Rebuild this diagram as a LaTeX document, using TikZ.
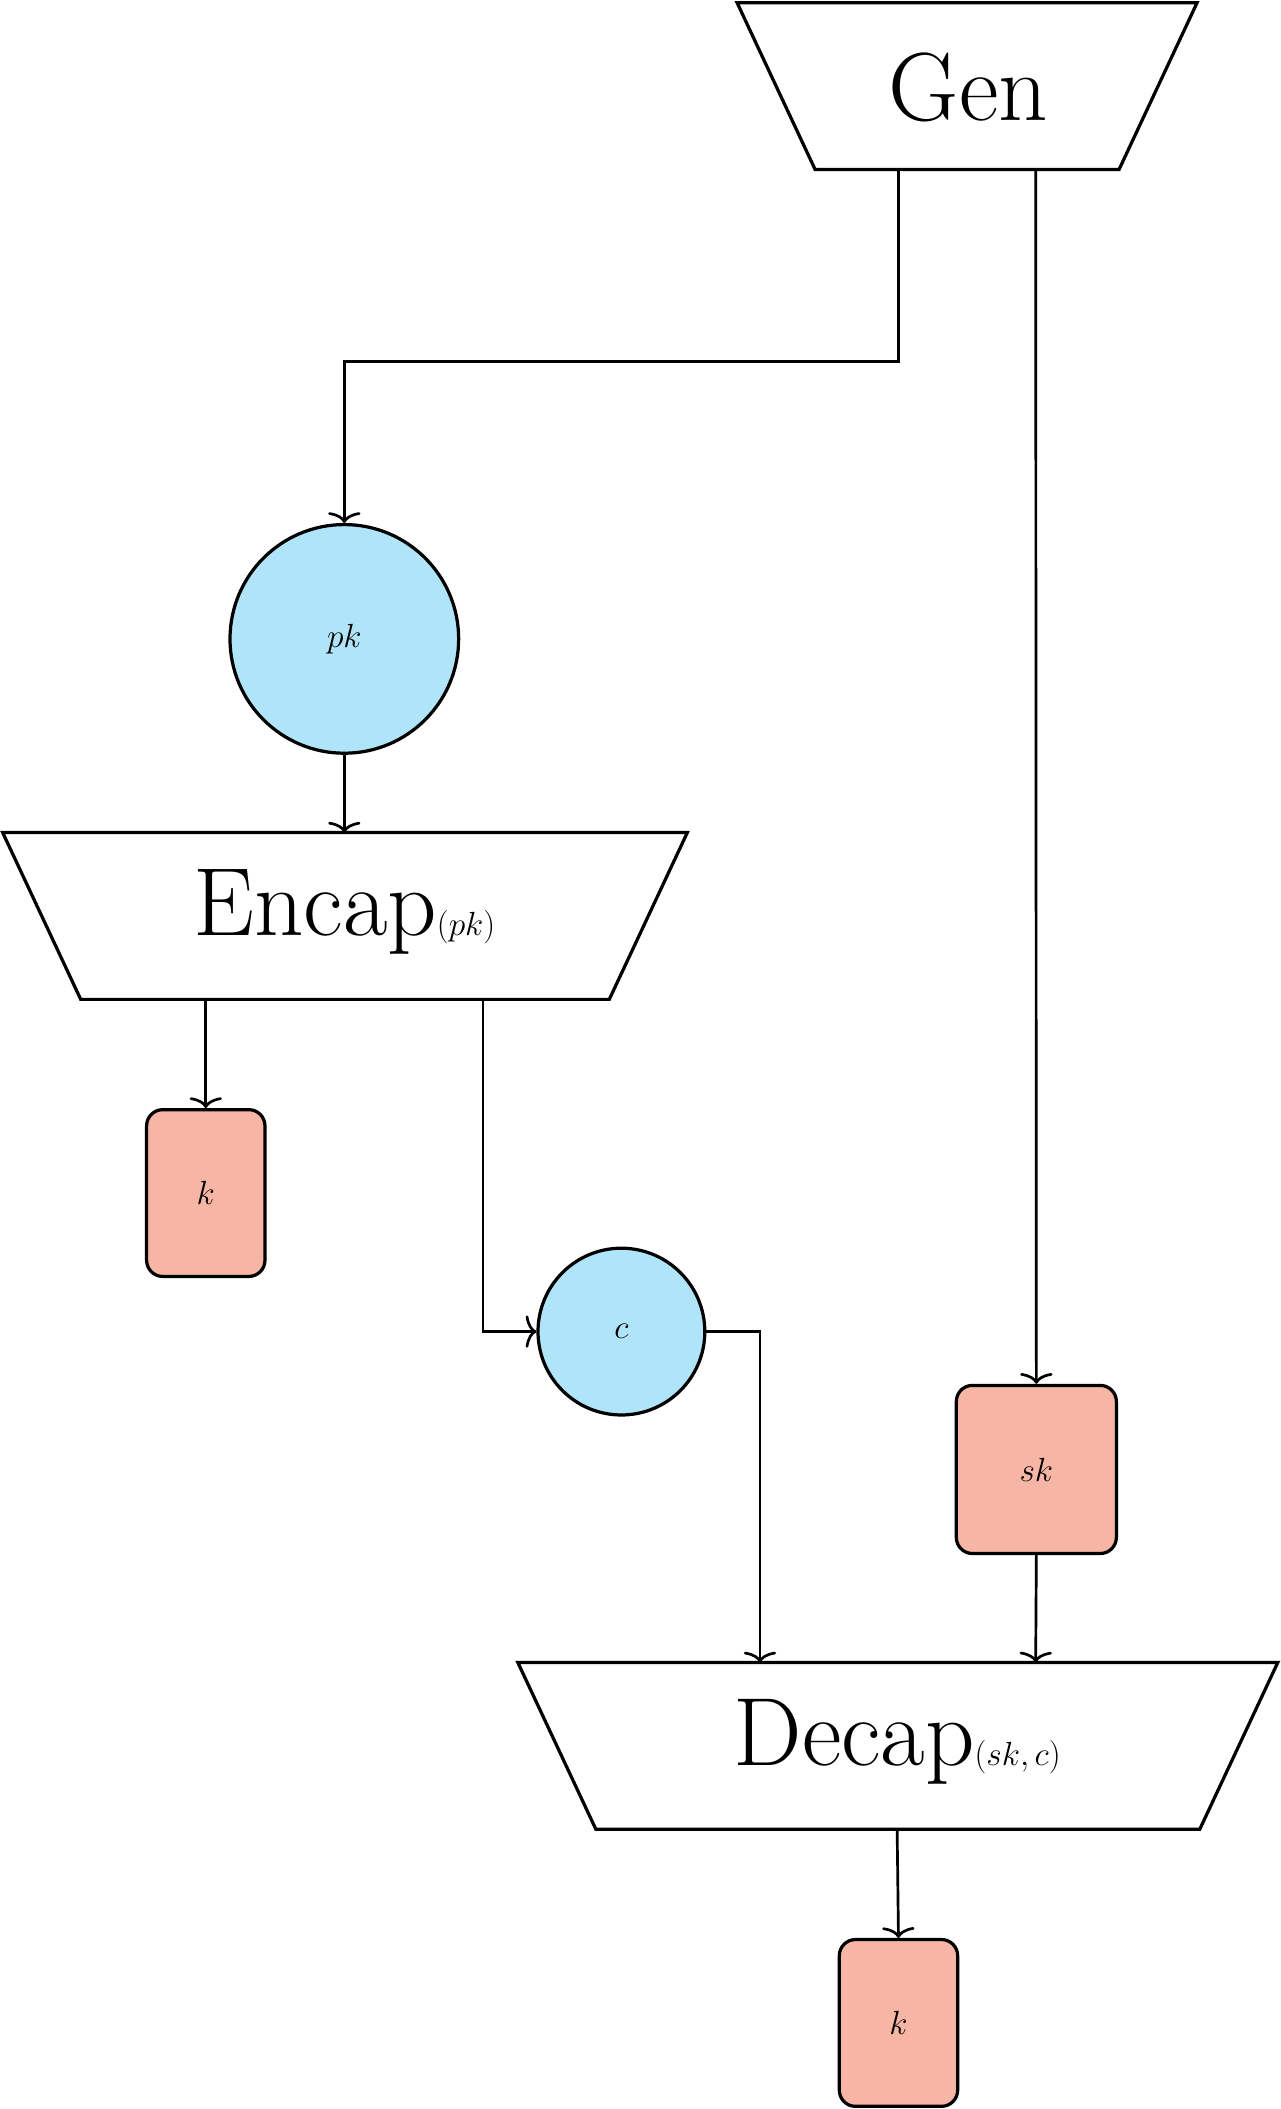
\documentclass[tikz,border=0pt]{standalone}
\usetikzlibrary{arrows.meta}
\definecolor{cy}{HTML}{B0E4F8}
\definecolor{sal}{HTML}{F6B5A5}
\begin{document}
\begin{tikzpicture}[x=1pt,y=-1pt,line width=2.4pt,
  lbl/.style={font=\fontsize{72}{80}\selectfont},
  circ/.style={draw,circle,fill=cy,inner sep=0pt},
  kbox/.style={draw,fill=sal,rounded corners=12pt,inner sep=0pt},
  arr/.style={-{To[length=8pt,width=24pt]},line width=2pt}]
\useasboundingbox (0,0) rectangle (952,1568);
% Gen
\draw[fill=white] (548,2) -- (890,2) -- (832,126) -- (606,126) -- cycle;
\node[lbl] (gen) at (720,65) {Gen};
\coordinate (g1) at (668,126); \coordinate (g2) at (770,126);
% pk
\node[circ,minimum size=170pt] (pk) at (256,475) {\fontsize{72}{80}\selectfont$pk$};
% Encap
\draw[fill=white] (2,619) -- (511,619) -- (453,743) -- (60,743) -- cycle;
\node[lbl] (enc) at (256,678) {Encap$(pk)$};
\coordinate (e1) at (153,743); \coordinate (e2) at (359,743); \coordinate (et) at (256,619);
% k
\node[kbox,minimum width=88pt,minimum height=124pt] (k1) at (153,887) {\fontsize{72}{80}\selectfont$k$};
% c
\node[circ,minimum size=124pt] (c) at (462,990) {\fontsize{72}{80}\selectfont$c$};
% sk
\node[kbox,minimum width=119pt,minimum height=125pt] (sk) at (770.5,1092.5) {\fontsize{72}{80}\selectfont$sk$};
% Decap
\draw[fill=white] (385,1236) -- (950,1236) -- (892,1360) -- (443,1360) -- cycle;
\node[lbl] (dec) at (667,1295) {Decap$(sk,c)$};
\coordinate (d1) at (565,1236); \coordinate (d2) at (770,1236); \coordinate (db) at (667,1360);
% k2
\node[kbox,minimum width=88pt,minimum height=124pt] (k2) at (668,1504) {\fontsize{72}{80}\selectfont$k$};
% connectors
\draw[arr] (g1) |- (256,269) -- (pk.north);
\draw[arr] (g2) -- (sk.north);
\draw[arr] (pk.south) -- (et);
\draw[arr] (e1) -- (k1.north);
\draw[arr] (e2) |- (c.west);
\draw[arr] (c.east) -| (d1);
\draw[arr] (sk.south) -- (d2);
\draw[arr] (db) -- (k2.north);
\end{tikzpicture}
\end{document}
